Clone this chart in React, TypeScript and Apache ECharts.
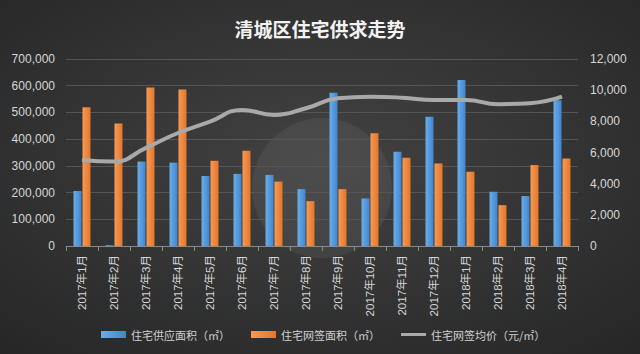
import React, { useEffect, useRef } from "react";
import * as echarts from "echarts";

const categories = [
  "2017年1月", "2017年2月", "2017年3月", "2017年4月", "2017年5月", "2017年6月",
  "2017年7月", "2017年8月", "2017年9月", "2017年10月", "2017年11月", "2017年12月",
  "2018年1月", "2018年2月", "2018年3月", "2018年4月",
];
const supplyArea = [206000, 3000, 316000, 312000, 262000, 270000, 266000, 213000, 574000, 178000, 353000, 484000, 621000, 203000, 187000, 546000];
const signedArea = [519000, 459000, 593000, 586000, 319000, 357000, 241000, 168000, 213000, 422000, 330000, 309000, 278000, 153000, 303000, 328000];
const avgPrice = [5520, 5420, 6300, 7250, 7980, 8730, 8410, 8840, 9480, 9580, 9520, 9370, 9370, 9100, 9160, 9580];
const seriesNames = ["住宅供应面积（㎡）", "住宅网签面积（㎡）", "住宅网签均价（元/㎡）"];
const titleText = "清城区住宅供求走势";

const FONT = "'Liberation Sans', 'Noto Sans CJK SC', sans-serif";

export default function App() {
  const ref = useRef<HTMLDivElement>(null);
  useEffect(() => {
    if (!ref.current) return;
    const chart = echarts.init(ref.current, undefined, { renderer: "svg" });
    chart.setOption({
      animation: false,
      backgroundColor: new echarts.graphic.RadialGradient(0.5, 0.45, 0.75, [
        { offset: 0, color: "#424242" },
        { offset: 1, color: "#262626" },
      ]),
      title: {
        text: titleText,
        left: "center",
        top: 14,
        textStyle: { color: "#f2f2f2", fontSize: 19, fontWeight: "bold", fontFamily: "'Noto Sans CJK SC', sans-serif" },
      },
      graphic: [
        {
          type: "circle",
          shape: { cx: 322, cy: 188, r: 70 },
          style: { fill: "rgba(200,200,200,0.08)" },
          z: 0,
        },
      ],
      legend: {
        bottom: 9,
        left: 96,
        itemGap: 21,
        itemWidth: 25,
        itemHeight: 7,
        textStyle: { color: "#d0d0d0", fontSize: 11, fontFamily: "'Noto Sans CJK SC', sans-serif" },
        data: [
          { name: seriesNames[0], icon: "rect" },
          { name: seriesNames[1], icon: "rect" },
          { name: seriesNames[2], icon: "path://M0,0 L50,0 L50,6 L0,6 Z" },
        ],
      },
      grid: { left: 66, right: 62, top: 59, bottom: 108, containLabel: false },
      xAxis: {
        type: "category",
        data: categories,
        axisLine: { lineStyle: { color: "#8a8a8a" } },
        axisTick: { show: true, lineStyle: { color: "#8a8a8a" } },
        axisLabel: { rotate: 90, color: "#d6d6d6", fontSize: 11.5, fontFamily: "'Liberation Sans', 'Noto Sans CJK SC', sans-serif", margin: 9 },
      },
      yAxis: [
        {
          type: "value",
          min: 0,
          max: 700000,
          interval: 100000,
          axisLine: { show: false },
          axisTick: { show: false },
          splitLine: { lineStyle: { color: "#555555", width: 1 } },
          axisLabel: {
            color: "#d6d6d6",
            fontSize: 12,
            fontFamily: FONT,
            margin: 11,
            formatter: (v: number) => v.toLocaleString("en-US"),
          },
        },
        {
          type: "value",
          min: 0,
          max: 12000,
          interval: 2000,
          axisLine: { show: false },
          axisTick: { show: false },
          splitLine: { show: false },
          axisLabel: {
            color: "#d6d6d6",
            fontSize: 12,
            fontFamily: FONT,
            margin: 12,
            formatter: (v: number) => v.toLocaleString("en-US"),
          },
        },
      ],
      series: [
        {
          name: seriesNames[0],
          type: "bar",
          data: supplyArea,
          barWidth: 8,
          barGap: "12%",
          itemStyle: {
            color: new echarts.graphic.LinearGradient(0, 0, 1, 0, [
              { offset: 0, color: "#6aaee8" },
              { offset: 1, color: "#3f86cc" },
            ]),
          },
        },
        {
          name: seriesNames[1],
          type: "bar",
          data: signedArea,
          barWidth: 8,
          itemStyle: {
            color: new echarts.graphic.LinearGradient(0, 0, 1, 0, [
              { offset: 0, color: "#f59a55" },
              { offset: 1, color: "#e5762b" },
            ]),
          },
        },
        {
          name: seriesNames[2],
          type: "line",
          yAxisIndex: 1,
          data: avgPrice,
          smooth: true,
          showSymbol: false,
          symbol: "none",
          lineStyle: { color: "#a9a9a9", width: 4 },
          itemStyle: { color: "#a9a9a9" },
          z: 3,
        },
      ],
    });
    return () => chart.dispose();
  }, []);
  return <div ref={ref} style={{ width: 640, height: 354, position: "absolute", left: 0, top: 0 }} />;
}
